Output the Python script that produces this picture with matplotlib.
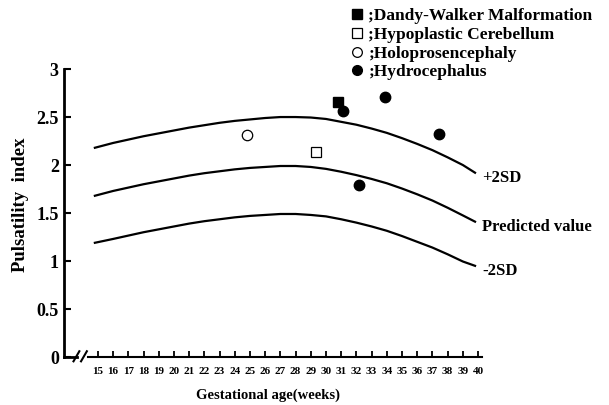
import matplotlib
matplotlib.use('Agg')
import matplotlib.pyplot as plt
from matplotlib.lines import Line2D

# ==========================================
# DATA
# ==========================================

curve_weeks = [14.8, 16, 17, 18, 19, 20, 21, 22, 23, 24, 25, 26, 27,
               28, 29, 30, 31, 32, 33, 34, 35, 36, 37, 38, 39, 39.8]

upper_2sd = [2.18, 2.23, 2.265, 2.30, 2.33, 2.36, 2.39, 2.415, 2.44, 2.46, 2.475, 2.49, 2.50,
             2.50, 2.495, 2.48, 2.45, 2.42, 2.38, 2.335, 2.28, 2.22, 2.155, 2.08, 2.00, 1.92]

predicted = [1.68, 1.73, 1.765, 1.80, 1.83, 1.86, 1.89, 1.915, 1.935, 1.955, 1.97, 1.98, 1.99,
             1.99, 1.98, 1.96, 1.93, 1.895, 1.855, 1.81, 1.755, 1.695, 1.63, 1.555, 1.475, 1.41]

lower_2sd = [1.19, 1.23, 1.265, 1.30, 1.33, 1.36, 1.39, 1.415, 1.435, 1.455, 1.47, 1.48, 1.49,
             1.49, 1.48, 1.465, 1.435, 1.40, 1.36, 1.315, 1.26, 1.20, 1.14, 1.07, 0.995, 0.95]

curve_labels = ["+2SD", "Predicted value", "-2SD"]

# cases
dandy_walker_weeks = [30.8]
dandy_walker_pi = [2.66]

hypoplastic_weeks = [29.35]
hypoplastic_pi = [2.14]

holoprosencephaly_weeks = [24.8]
holoprosencephaly_pi = [2.31]

hydrocephalus_weeks = [31.1, 33.9, 37.4, 32.15]
hydrocephalus_pi = [2.56, 2.71, 2.32, 1.79]

legend_labels = [";Dandy-Walker Malformation", ";Hypoplastic Cerebellum",
                 ";Holoprosencephaly", ";Hydrocephalus"]

x_ticks = list(range(15, 41))
y_ticks = [0, 0.5, 1, 1.5, 2, 2.5, 3]
y_tick_labels = ["0", "0.5", "1", "1.5", "2", "2.5", "3"]

# ==========================================
# FIGURE
# ==========================================

plt.rcParams['font.family'] = ['Liberation Serif', 'DejaVu Serif']
plt.rcParams['font.weight'] = 'bold'

fig = plt.figure(figsize=(6.09, 4.05), dpi=100)
ax = fig.add_axes([0.1056, 0.1185, 0.6859, 0.711])

ax.plot(curve_weeks, upper_2sd, color='black', linewidth=1.6)
ax.plot(curve_weeks, predicted, color='black', linewidth=1.6)
ax.plot(curve_weeks, lower_2sd, color='black', linewidth=1.6)

ends = [upper_2sd[-1], predicted[-1], lower_2sd[-1]]
for label, end in zip(curve_labels, ends):
    ax.annotate(label, xy=(curve_weeks[-1], end), xytext=(5, -4),
                textcoords='offset points', fontsize=12, fontweight='bold',
                va='center', ha='left', annotation_clip=False)

ms = 7.5
ax.plot(dandy_walker_weeks, dandy_walker_pi, 's', color='black', markersize=ms, clip_on=False)
ax.plot(hypoplastic_weeks, hypoplastic_pi, 's', markerfacecolor='white',
        markeredgecolor='black', markeredgewidth=0.9, markersize=ms)
ax.plot(holoprosencephaly_weeks, holoprosencephaly_pi, 'o', markerfacecolor='white',
        markeredgecolor='black', markeredgewidth=0.9, markersize=ms)
ax.plot(hydrocephalus_weeks, hydrocephalus_pi, 'o', color='black', markersize=ms)

# ==========================================
# AXES
# ==========================================

ax.set_xlim(12.79, 40.26)
ax.set_ylim(0, 3)

ax.spines['top'].set_visible(False)
ax.spines['right'].set_visible(False)
ax.spines['bottom'].set_visible(False)
ax.spines['left'].set_linewidth(2)

# broken x axis
ax.plot([0, 0.03], [0, 0], transform=ax.transAxes, color='black', linewidth=2, clip_on=False)
ax.plot([0.057, 1], [0, 0], transform=ax.transAxes, color='black', linewidth=1.5, clip_on=False)
ax.plot([0.022, 0.036], [-0.015, 0.02], transform=ax.transAxes, color='black', linewidth=1.5, clip_on=False)
ax.plot([0.040, 0.054], [-0.015, 0.02], transform=ax.transAxes, color='black', linewidth=1.5, clip_on=False)

ax.set_yticks(y_ticks)
ax.set_yticklabels(y_tick_labels, fontsize=13, fontweight='bold')
ax.tick_params(axis='y', direction='in', length=5, width=1.5, pad=4)

ax.set_xticks(x_ticks)
ax.set_xticklabels([str(w) for w in x_ticks], fontsize=8, fontweight='bold')
ax.tick_params(axis='x', direction='in', length=4, width=1.3, pad=7)

ax.set_ylabel("Pulsatility  index", fontsize=13.5, fontweight='bold')
ax.yaxis.set_label_coords(-0.085, 0.53)
ax.set_xlabel("Gestational age(weeks)", fontsize=10.5, fontweight='bold')
ax.xaxis.set_label_coords(0.487, -0.11)

# ==========================================
# LEGEND
# ==========================================

handles = [
    Line2D([], [], marker='s', linestyle='none', color='black', markersize=7),
    Line2D([], [], marker='s', linestyle='none', markerfacecolor='white',
           markeredgecolor='black', markeredgewidth=0.9, markersize=7),
    Line2D([], [], marker='o', linestyle='none', markerfacecolor='white',
           markeredgecolor='black', markeredgewidth=0.9, markersize=7),
    Line2D([], [], marker='o', linestyle='none', color='black', markersize=7),
]
leg = fig.legend(handles, legend_labels, loc='upper left',
                 bbox_to_anchor=(352 / 609, 1 - 8 / 405), frameon=False,
                 handlelength=0.6, handletextpad=0.3, labelspacing=0.15,
                 borderaxespad=0, borderpad=0,
                 prop={'size': 12.5, 'weight': 'bold'})

fig.savefig("out.png", dpi=100)
plt.close()
